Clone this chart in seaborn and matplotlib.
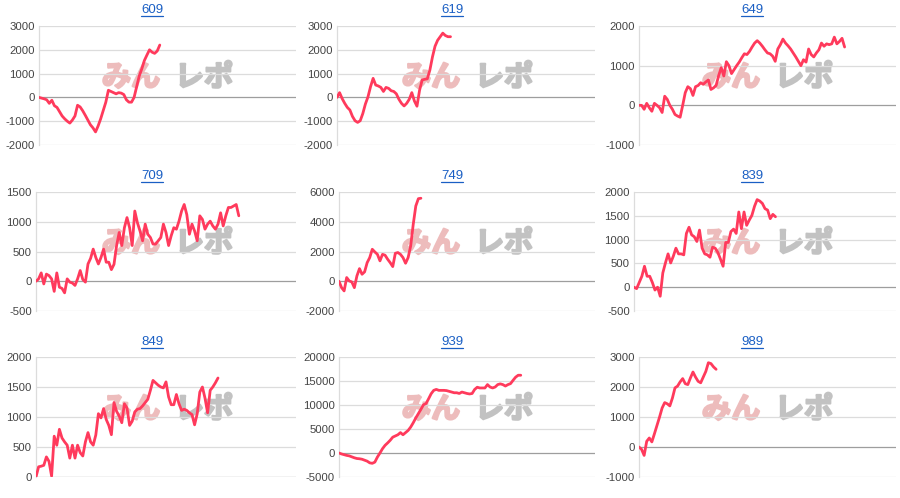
import numpy as np
import pandas as pd
import matplotlib
matplotlib.use("Agg")
import matplotlib.pyplot as plt
import matplotlib.patheffects as pe
from matplotlib.lines import Line2D
import seaborn as sns

sns.set_theme(style="white")
plt.rcParams['font.family'] = ['Liberation Sans', 'Noto Sans CJK JP', 'DejaVu Sans']

# machine numbers (panel titles)
machines = ["609", "619", "649", "709", "749", "839", "849", "939", "989"]

# cumulative balance per day
m609 = [0, -30, -60, -100, -250, -120, -350, -420, -600, -780, -900, -1000, -1080, -950, -780,
        -330, -400, -560, -750, -950, -1150, -1280, -1450, -1200, -900, -550, -200, 300, 250,
        200, 150, 200, 180, 120, -100, -200, -200, 0, 450, 900, 1200, 1550, 1780, 2000, 1900,
        1850, 1950, 2200]
m619 = [0, 200, -50, -250, -420, -530, -800, -980, -1050, -980, -680, -280, 20, 450, 800, 520,
        480, 420, 250, 420, 380, 280, 250, 150, -80, -250, -360, -250, -80, 200, -150, -370,
        300, 730, 760, 780, 1150, 1700, 2150, 2400, 2550, 2700, 2600, 2550, 2550]
m649 = [0, 0, -100, 50, -60, -150, 50, 0, -60, -180, 230, 150, 0, -100, -230, -270, -300, 0,
        320, 470, 420, 250, 470, 500, 570, 530, 590, 640, 400, 440, 500, 750, 950, 740, 1100,
        1000, 800, 900, 1000, 1090, 1200, 1300, 1280, 1360, 1470, 1570, 1630, 1570, 1490, 1400,
        1320, 1300, 1240, 1110, 1420, 1530, 1670, 1570, 1500, 1420, 1320, 1220, 1110, 1000,
        1150, 1090, 1420, 1280, 1220, 1320, 1400, 1570, 1490, 1550, 1530, 1550, 1720, 1550,
        1610, 1690, 1470]
m709 = [0, 40, 140, -45, 120, 95, 40, -170, 140, -100, -120, -195, 40, -15, -30, -70, 40, 180,
        30, -15, 290, 385, 540, 400, 290, 400, 540, 320, 320, 195, 285, 600, 820, 600, 900, 1070,
        900, 600, 1180, 985, 845, 680, 960, 790, 735, 625, 625, 680, 735, 960, 820, 600, 765,
        900, 875, 1010, 1180, 1290, 1120, 790, 960, 845, 680, 1100, 1040, 875, 960, 1010, 930,
        875, 960, 1150, 930, 1100, 1240, 1240, 1265, 1290, 1100]
m749 = [0, -430, -650, 250, 20, -45, -430, 360, 850, 470, 630, 1250, 1590, 2150, 1970, 1810,
        1370, 1810, 1750, 1480, 1250, 985, 1880, 1930, 1810, 1590, 1210, 1590, 2370, 3830, 5060,
        5550, 5580]
m839 = [0, -30, 100, 230, 440, 230, 230, 100, -60, 0, -190, 300, 510, 700, 510, 650, 820, 700,
        700, 680, 1130, 1260, 1100, 1060, 960, 1200, 820, 700, 680, 630, 840, 820, 730, 590, 440,
        940, 940, 1170, 1220, 1130, 1580, 1230, 1580, 1300, 1410, 1510, 1700, 1840, 1810, 1760,
        1650, 1620, 1440, 1530, 1480]
m849 = [0, 170, 180, 195, 335, 260, 15, 680, 530, 795, 650, 585, 530, 315, 530, 315, 530, 405,
        350, 585, 740, 585, 530, 700, 1055, 985, 1140, 960, 860, 705, 1240, 1095, 1015, 905, 1220,
        1150, 860, 930, 1085, 1130, 1140, 1185, 1240, 1295, 1445, 1610, 1570, 1530, 1500, 1485,
        1585, 1335, 1205, 1205, 1375, 1220, 1110, 1130, 1110, 1070, 1040, 870, 1055, 1415, 1500,
        1315, 1070, 1445, 1500, 1570, 1650]
m939 = [0, -200, -350, -500, -600, -800, -1000, -1150, -1200, -1300, -1500, -1700, -2050, -2150,
        -1900, -850, 0, 900, 1600, 2100, 2650, 3300, 3550, 3800, 4250, 3800, 4250, 4700, 5400,
        6300, 7300, 8200, 9100, 10050, 10300, 11300, 12350, 13050, 13250, 13050, 13050, 13050,
        13000, 12850, 12700, 12550, 12550, 12400, 12700, 12550, 12400, 12300, 12400, 13250,
        13700, 13550, 13550, 13550, 14250, 13750, 13550, 13750, 14250, 14400, 14250, 13950,
        14250, 14450, 15150, 15800, 16200, 16200]
m989 = [0, -80, -280, 190, 300, 170, 440, 720, 1000, 1300, 1480, 1440, 1370, 1630, 1970, 2030,
        2170, 2280, 2110, 2080, 2300, 2500, 2330, 2190, 2140, 2330, 2520, 2810, 2780, 2670, 2590]

series = [m609, m619, m649, m709, m749, m839, m849, m939, m989]

# y tick ranges (min, max, step) as shown on each panel
y_ticks = [(-2000, 3000, 1000), (-2000, 3000, 1000), (-1000, 2000, 1000),
           (-500, 1500, 500), (-2000, 6000, 2000), (-500, 2000, 500),
           (0, 2000, 500), (-5000, 20000, 5000), (-1000, 3000, 1000)]

n_days = 100
line_color = "#ff3a5c"

W, H = 900, 498
fig = plt.figure(figsize=(W / 100, H / 100), dpi=100)

# left edge (px) of each plot area, differs with label width
left_px = [39, 337, 639, 36, 339, 634, 36, 339, 639]
right_px = [296, 595, 896]
top_px = [26, 192, 357]
bottom_px = [145, 311, 477]

titles = []
for i, (name, vals, (lo, hi, step)) in enumerate(zip(machines, series, y_ticks)):
    r, c = divmod(i, 3)
    l = left_px[i]
    rgt = right_px[c]
    t, b = top_px[r], bottom_px[r]
    ax = fig.add_axes([l / W, 1 - b / H, (rgt - l) / W, (b - t) / H])

    df = pd.DataFrame({"day": np.arange(len(vals)), "balance": vals})
    sns.lineplot(data=df, x="day", y="balance", ax=ax, color=line_color,
                 linewidth=2.0, zorder=5)

    ticks = np.arange(lo, hi + step, step)
    ax.set_ylim(lo, hi)
    ax.set_xlim(0, n_days)
    ax.set_yticks(ticks)
    ax.set_yticklabels([str(v) for v in ticks])
    ax.set_xticks([])
    ax.set_xlabel("")
    ax.set_ylabel("")
    for v in ticks:
        col = "#9e9e9e" if v == 0 else "#dcdcdc"
        ax.axhline(v, color=col, linewidth=0.9, zorder=1)
    for s in ["top", "right", "bottom"]:
        ax.spines[s].set_visible(False)
    ax.spines["left"].set_color("#dcdcdc")
    ax.spines["left"].set_linewidth(0.9)
    ax.tick_params(axis="y", length=0, pad=3, labelsize=8.2, labelcolor="#444444")
    ax.patch.set_alpha(0)

    # watermark (behind the axes)
    px0 = 300 * c
    py0 = 166 * r
    fig.text((px0 + 131) / W, 1 - (py0 + 77) / H, "みん", fontsize=21, fontweight="bold",
             color="#edbcbc", ha="center", va="center", family=["Noto Sans CJK JP"],
             zorder=-1, path_effects=[pe.withStroke(linewidth=1.6, foreground="#edbcbc")])
    fig.text((px0 + 204) / W, 1 - (py0 + 77) / H, "レポ", fontsize=21, fontweight="bold",
             color="#c2c2c2", ha="center", va="center", family=["Noto Sans CJK JP"],
             zorder=-1, path_effects=[pe.withStroke(linewidth=1.6, foreground="#c2c2c2")])

    # title, underlined like a link
    titles.append(fig.text((px0 + 152) / W, 1 - (py0 + 10) / H, name,
                           fontsize=9.5, color="#1a5fc4", ha="center", va="center"))

fig.canvas.draw()
renderer = fig.canvas.get_renderer()
for tx in titles:
    bb = tx.get_window_extent(renderer)
    y = (bb.y0 - 0.5) / H
    fig.add_artist(Line2D([bb.x0 / W, bb.x1 / W], [y, y], color="#1a5fc4",
                          linewidth=0.9, transform=fig.transFigure))

fig.savefig("out.png", dpi=100)
